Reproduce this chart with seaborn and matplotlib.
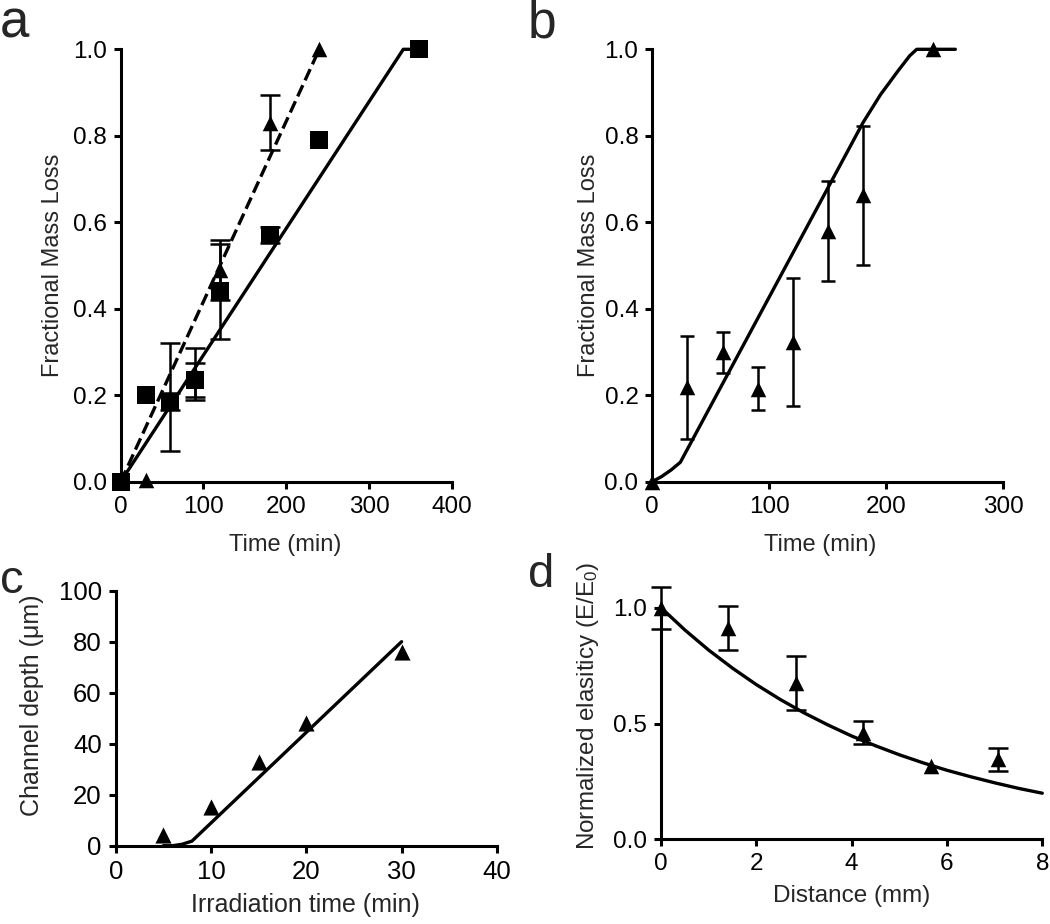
import numpy as np
import pandas as pd
import matplotlib
matplotlib.use('Agg')
import matplotlib.pyplot as plt
import seaborn as sns

# panel a: two series (squares / triangles) with error bars
a_time_sq = [0, 30, 60, 90, 120, 180, 240, 360]
a_loss_sq = [0.0, 0.20, 0.185, 0.235, 0.44, 0.57, 0.79, 1.0]
a_err_sq = [0, 0, 0.02, 0.04, 0.11, 0.018, 0, 0]
a_time_tri = [0, 30, 60, 90, 120, 180, 240]
a_loss_tri = [0.0, 0.005, 0.195, 0.25, 0.49, 0.83, 1.0]
a_err_tri = [0, 0, 0.125, 0.06, 0.07, 0.064, 0]
a_fit_sq_x = [0, 341.5, 360]
a_fit_sq_y = [0, 1.0, 1.0]
a_fit_tri_x = [0, 240]
a_fit_tri_y = [0, 1.0]

# panel b
b_time = [0, 30, 60, 90, 120, 150, 180, 240]
b_loss = [0.0, 0.218, 0.299, 0.215, 0.323, 0.58, 0.662, 1.0]
b_err = [0, 0.12, 0.048, 0.05, 0.148, 0.116, 0.16, 0]
b_fit_x = [0, 8, 16, 24, 180, 195, 210, 220, 226, 259]
b_fit_y = [0, 0.012, 0.027, 0.045, 0.83, 0.895, 0.95, 0.985, 1.0, 1.0]

# panel c
c_time = [5, 10, 15, 20, 30]
c_depth = [4.2, 15.3, 33, 48, 76]
c_err = [0, 0, 0, 0, 0]
c_fit_x = [5, 6, 7, 8, 30]
c_fit_y = [0, 0, 0.6, 1.8, 80]

# panel d
d_dist = [0, 1.414, 2.828, 4.243, 5.657, 7.071]
d_elast = [1.0, 0.913, 0.675, 0.46, 0.318, 0.346]
d_err = [0.09, 0.096, 0.117, 0.05, 0, 0.05]
d_fit_x = [0, 0.5, 1, 1.5, 2, 2.5, 3, 3.5, 4, 4.5, 5, 5.5, 6, 6.5, 7, 7.5, 8]
d_fit_y = [1.0, 0.904, 0.817, 0.739, 0.668, 0.604, 0.546, 0.494, 0.446,
           0.404, 0.365, 0.330, 0.298, 0.270, 0.244, 0.220, 0.199]

sns.set_style('ticks')
plt.rcParams['font.family'] = ['Liberation Sans', 'DejaVu Sans']
plt.rcParams['mathtext.fontset'] = 'custom'
plt.rcParams['mathtext.rm'] = 'Liberation Sans'
plt.rcParams['axes.linewidth'] = 2.2

W, H = 1050, 924
fig = plt.figure(figsize=(10.5, 9.24), dpi=100)


def box(x0, x1, ytop, ybot):
    return [x0 / W, 1 - ybot / H, (x1 - x0) / W, (ybot - ytop) / H]


def style(ax, tick_size):
    sns.despine(ax=ax)
    ax.tick_params(direction='out', length=5, width=2.2, labelsize=tick_size,
                   pad=5, colors='black')
    for s in ['left', 'bottom']:
        ax.spines[s].set_color('black')
        ax.spines[s].set_linewidth(2.2)
        ax.spines[s].set_zorder(1)
    ax.set_facecolor('white')


def fit_line(ax, x, y, dashed=False):
    sns.lineplot(x=x, y=y, ax=ax, color='black', lw=2.4, sort=False,
                 estimator=None, linestyle='--' if dashed else '-',
                 dashes=False, clip_on=False, zorder=3)


def points(ax, x, y, err, marker, ms, cap):
    # only points that carry an error bar get one
    df = pd.DataFrame({'x': x, 'y': y, 'e': err})
    eb = df[df.e > 0]
    if len(eb):
        ax.errorbar(eb.x, eb.y, yerr=eb.e, fmt='none', ecolor='black',
                    elinewidth=1.8, capsize=cap, capthick=1.8,
                    clip_on=False, zorder=2)
    sns.scatterplot(data=df, x='x', y='y', ax=ax, marker=marker, s=ms,
                    color='black', edgecolor='black', linewidth=0,
                    clip_on=False, zorder=4)


# ---- panel a
ax_a = fig.add_axes(box(120.7, 451.7, 49.3, 481.7))
fit_line(ax_a, a_fit_tri_x, a_fit_tri_y, dashed=True)
fit_line(ax_a, a_fit_sq_x, a_fit_sq_y)
points(ax_a, a_time_tri, a_loss_tri, a_err_tri, '^', 125, 7)
points(ax_a, a_time_sq, a_loss_sq, a_err_sq, 's', 150, 7)
ax_a.set_xlim(0, 400)
ax_a.set_ylim(0, 1.0)
ax_a.set_xticks([0, 100, 200, 300, 400])
ax_a.set_yticks([0, 0.2, 0.4, 0.6, 0.8, 1.0])
ax_a.yaxis.set_major_formatter('{x:.1f}')
ax_a.set_xlabel('Time (min)', fontsize=17)
ax_a.set_ylabel('Fractional Mass Loss', fontsize=17)
ax_a.xaxis.set_label_coords(0.496, -0.121)
ax_a.yaxis.set_label_coords(-0.171, 0.5)
style(ax_a, 17.5)

# ---- panel b
ax_b = fig.add_axes(box(652.3, 1003.3, 49.3, 481.7))
fit_line(ax_b, b_fit_x, b_fit_y)
points(ax_b, b_time, b_loss, b_err, '^', 125, 5)
ax_b.set_xlim(0, 300)
ax_b.set_ylim(0, 1.0)
ax_b.set_xticks([0, 100, 200, 300])
ax_b.set_yticks([0, 0.2, 0.4, 0.6, 0.8, 1.0])
ax_b.yaxis.set_major_formatter('{x:.1f}')
ax_b.set_xlabel('Time (min)', fontsize=17)
ax_b.set_ylabel('Fractional Mass Loss', fontsize=17)
ax_b.xaxis.set_label_coords(0.478, -0.121)
ax_b.yaxis.set_label_coords(-0.149, 0.5)
style(ax_b, 17.5)

# ---- panel c
ax_c = fig.add_axes(box(115.7, 496.9, 590.7, 845.7))
fit_line(ax_c, c_fit_x, c_fit_y)
points(ax_c, c_time, c_depth, c_err, '^', 135, 0)
ax_c.set_xlim(0, 40)
ax_c.set_ylim(0, 100)
ax_c.set_xticks([0, 10, 20, 30, 40])
ax_c.set_yticks([0, 20, 40, 60, 80, 100])
ax_c.set_xlabel('Irradiation time (min)', fontsize=18)
ax_c.set_ylabel('Channel depth (\u03bcm)', fontsize=18)
ax_c.xaxis.set_label_coords(0.498, -0.185)
ax_c.yaxis.set_label_coords(-0.188, 0.55)
style(ax_c, 18.5)

# ---- panel d
ax_d = fig.add_axes(box(661, 1042.3, 607.7, 839.3))
fit_line(ax_d, d_fit_x, d_fit_y)
points(ax_d, d_dist, d_elast, d_err, '^', 125, 7)
ax_d.set_xlim(0, 8)
ax_d.set_ylim(0, 1.0)
ax_d.set_xticks([0, 2, 4, 6, 8])
ax_d.set_yticks([0, 0.5, 1.0])
ax_d.yaxis.set_major_formatter('{x:.1f}')
ax_d.set_xlabel('Distance (mm)', fontsize=17.5)
ax_d.set_ylabel('Normalized elasiticy (E/E$\\mathregular{_0}$)', fontsize=17.5)
ax_d.xaxis.set_label_coords(0.501, -0.197)
ax_d.yaxis.set_label_coords(-0.157, 0.575)
style(ax_d, 17.5)

# panel letters
for letter, x, y, size in [('a', 0, 38, 38), ('b', 528, 38, 37),
                           ('c', 0, 593, 34), ('d', 528, 587, 34)]:
    fig.text(x / W, 1 - y / H, letter, fontsize=size, va='baseline', ha='left')

fig.savefig('out.png', dpi=100, facecolor='white')
